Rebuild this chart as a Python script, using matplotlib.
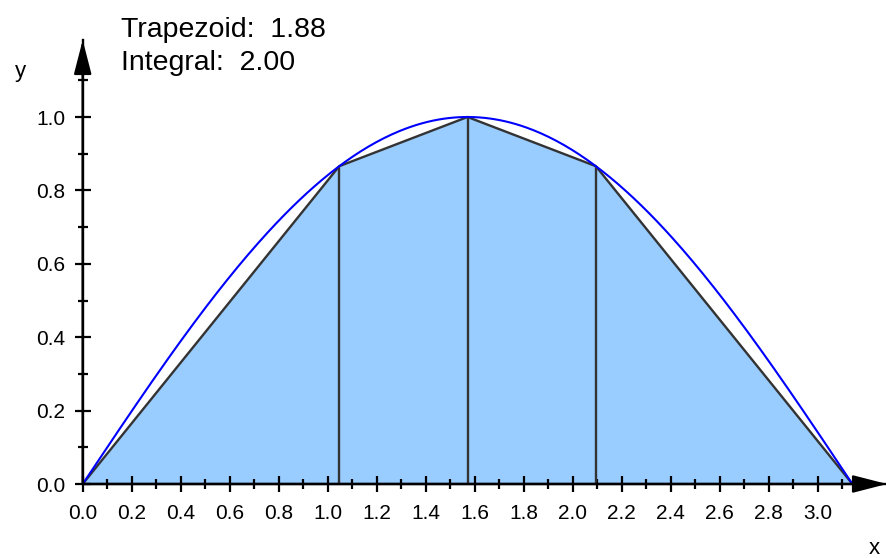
import matplotlib.pyplot as plt
import numpy as np
from matplotlib.ticker import FixedLocator

# trapezoid nodes for sin(x) on [0, pi]
node_x = [0.0, np.pi / 3, np.pi / 2, 2 * np.pi / 3, np.pi]
node_y = [0.0, 0.866, 1.0, 0.866, 0.0]

# the integrand itself
curve_x = np.linspace(0, np.pi, 300)
curve_y = np.sin(curve_x)

x_major = [0.0, 0.2, 0.4, 0.6, 0.8, 1.0, 1.2, 1.4, 1.6, 1.8, 2.0, 2.2, 2.4, 2.6, 2.8, 3.0]
y_major = [0.0, 0.2, 0.4, 0.6, 0.8, 1.0]

trap_area = np.trapezoid(node_y, node_x)
exact_area = 2.0

plt.rcParams['font.family'] = ['Liberation Sans', 'DejaVu Sans']

W, H = 887, 558
fig = plt.figure(figsize=(W / 100, H / 100), dpi=100)

# axes placed in pixel terms: origin at (82.7, 484), arrow tips at x=887 and y=40
x0, y0 = 82.7, 484.0
xpx, ypx = 245.0, 367.0
ax = fig.add_axes([x0 / W, (H - y0) / H, (W - x0) / W, (y0 - 40) / H])
ax.set_xlim(0, (W - x0) / xpx)
ax.set_ylim(0, (y0 - 40) / ypx)

ax.fill_between(node_x, node_y, 0, color='#99ccff', lw=0, zorder=1)
ax.plot(node_x, node_y, color='#333333', lw=1.7, zorder=2)
ax.vlines(node_x[1:-1], 0, node_y[1:-1], color='#333333', lw=1.7, zorder=2)
ax.plot(curve_x, curve_y, color='#0000ff', lw=1.5, zorder=3)

for s in ['top', 'right']:
    ax.spines[s].set_visible(False)
for s in ['left', 'bottom']:
    ax.spines[s].set_linewidth(1.7)
    ax.spines[s].set_zorder(4)

# axis arrows
arrow = dict(arrowstyle='-|>,head_length=1.05,head_width=0.27', mutation_scale=20,
             color='black', lw=1.7, shrinkA=0, shrinkB=0)
ax.annotate('', xy=(1, 0), xytext=(0, 0), xycoords='axes fraction',
            arrowprops=arrow, annotation_clip=False, zorder=5)
ax.annotate('', xy=(0, 1), xytext=(0, 0), xycoords='axes fraction',
            arrowprops=arrow, annotation_clip=False, zorder=5)

ax.xaxis.set_major_locator(FixedLocator(x_major))
ax.yaxis.set_major_locator(FixedLocator(y_major))
ax.xaxis.set_minor_locator(FixedLocator(np.arange(0.1, 3.15, 0.2)))
ax.yaxis.set_minor_locator(FixedLocator(np.arange(0.1, 1.15, 0.2)))
ax.set_xticklabels([f'{v:.1f}' for v in x_major])
ax.set_yticklabels([f'{v:.1f}' for v in y_major])
ax.tick_params(which='major', direction='inout', length=11, width=1.6,
               labelsize=15, colors='black')
ax.tick_params(which='minor', direction='inout', length=6.5, width=1.6)
ax.tick_params(axis='x', which='major', pad=9)
ax.tick_params(axis='y', which='major', pad=7)

fig.text(874 / W, 1 - 549 / H, 'x', fontsize=16, ha='center', va='center')
fig.text(20 / W, 1 - 71 / H, 'y', fontsize=16, ha='center', va='center')

fig.text(121 / W, 1 - 37 / H, f'Trapezoid:  {trap_area:.2f}', fontsize=20.5,
         ha='left', va='baseline')
fig.text(121 / W, 1 - 70 / H, f'Integral:  {exact_area:.2f}', fontsize=20.5,
         ha='left', va='baseline')

fig.savefig('out.png', dpi=100)
